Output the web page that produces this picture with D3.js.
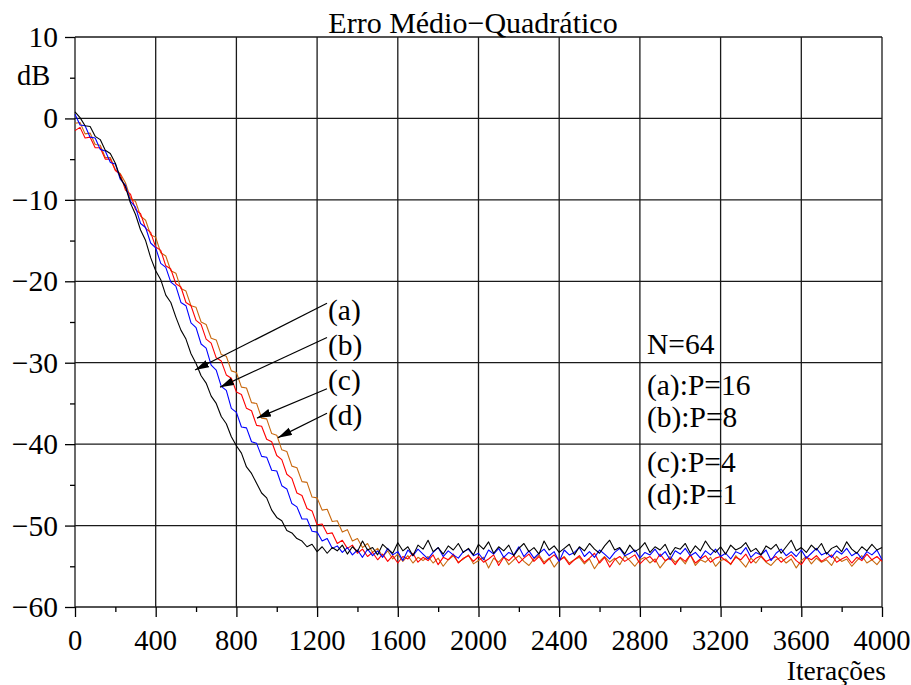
<!DOCTYPE html>
<html>
<head>
<meta charset="utf-8">
<script src="https://cdn.jsdelivr.net/npm/d3@7/dist/d3.min.js"></script>
<style>
  body { margin: 0; background: #fff; }
</style>
</head>
<body>
<div id="chart"></div>
<script>
// iteration step between stored samples
var step = 25;

// (a) P=16 - black
var seriesA = [
  0.8, 0.1, -0.9, -1.0, -2.2, -2.6, -3.9, -4.3, -5.5, -7.3,
  -8.4, -10.4, -11.8, -13.7, -15.0, -17.1, -18.7, -19.8, -21.7, -22.6,
  -24.4, -26.0, -27.1, -28.9, -30.1, -31.6, -32.5, -34.1, -35.0, -36.6,
  -37.5, -39.1, -40.2, -41.1, -42.8, -43.6, -44.8, -46.0, -46.6, -48.1,
  -49.0, -49.4, -50.6, -50.9, -51.6, -51.9, -52.6, -52.3, -53.2, -52.6,
  -53.4, -52.7, -53.1, -52.4, -53.5, -52.6, -53.2, -51.9, -53.0, -52.7,
  -53.6, -52.3, -52.9, -53.4, -52.1, -53.1, -52.6, -53.7, -52.4, -52.9,
  -51.8, -53.2, -52.7, -53.5, -52.5, -53.0, -52.2, -53.3, -52.8, -53.6,
  -52.3, -52.9, -52.0, -53.4, -52.6, -53.1, -52.4, -53.7, -52.8, -52.2,
  -53.2, -52.7, -53.5, -51.9, -53.0, -52.5, -53.3, -52.8, -52.3, -53.6,
  -52.6, -53.1, -52.2, -52.9, -53.4, -52.5, -51.8, -53.0, -52.7, -53.5,
  -52.4, -53.2, -52.8, -52.1, -53.3, -52.6, -53.0, -52.3, -53.6, -52.7,
  -52.9, -52.2, -53.4, -52.5, -53.1, -51.9, -52.8, -53.3, -52.6, -53.5,
  -52.4, -53.0, -52.7, -52.1, -53.2, -52.8, -53.6, -52.5, -52.9, -52.3,
  -53.4, -52.6, -51.8, -53.1, -52.7, -53.3, -52.4, -53.0, -52.2, -53.5,
  -52.8, -52.5, -53.2, -52.0, -52.9, -53.4, -52.6, -53.1, -52.3, -53.0,
  -52.7
];

// (b) P=8 - blue
var seriesB = [
  0.5, -0.8, -0.9, -2.3, -2.4, -3.8, -4.0, -5.4, -5.6, -7.5,
  -8.2, -10.2, -10.9, -12.9, -13.4, -15.3, -15.9, -17.8, -18.3, -20.1,
  -20.6, -22.6, -23.0, -25.1, -25.7, -27.7, -28.2, -30.3, -30.9, -32.9,
  -33.4, -35.6, -36.1, -37.9, -38.0, -39.7, -39.9, -41.5, -41.6, -43.2,
  -43.3, -45.1, -45.5, -47.3, -47.7, -49.2, -49.2, -50.7, -50.8, -51.9,
  -51.6, -52.8, -52.5, -53.3, -52.7, -53.6, -53.0, -53.9, -52.9, -53.7,
  -53.1, -53.9, -52.8, -53.6, -53.2, -54.3, -53.0, -53.7, -52.9, -53.5,
  -54.1, -53.3, -52.7, -53.8, -53.1, -53.6, -54.0, -53.2, -52.9, -53.7,
  -53.4, -54.2, -53.0, -53.5, -52.8, -53.9, -53.3, -53.6, -52.6, -53.8,
  -53.1, -54.0, -53.4, -52.9, -53.7, -53.2, -54.4, -53.0, -53.6, -53.3,
  -52.7, -53.8, -53.2, -53.9, -53.0, -53.5, -54.1, -53.3, -52.8, -53.7,
  -53.4, -53.0, -54.0, -53.3, -53.6, -52.9, -53.8, -53.2, -54.2, -53.1,
  -53.5, -52.8, -53.7, -53.3, -54.0, -53.1, -53.6, -52.9, -53.8, -53.4,
  -54.1, -53.2, -53.5, -52.7, -53.9, -53.3, -53.6, -53.0, -54.3, -53.4,
  -52.9, -53.7, -53.2, -53.8, -53.0, -54.0, -53.4, -52.8, -53.6, -53.3,
  -53.9, -53.1, -53.5, -52.8, -53.7, -53.3, -54.1, -53.2, -53.6, -53.0,
  -54.2
];

// (c) P=4 - red
var seriesC = [
  -1.5, -1.1, -2.4, -2.3, -3.6, -3.6, -5.0, -5.0, -6.4, -6.9,
  -8.8, -9.3, -11.2, -11.7, -13.5, -14.0, -15.8, -16.2, -18.1, -18.5,
  -20.3, -20.7, -22.6, -23.0, -24.8, -25.3, -27.1, -27.6, -29.4, -29.8,
  -31.5, -31.9, -33.6, -33.9, -35.6, -35.9, -37.7, -37.8, -39.4, -39.7,
  -41.4, -41.9, -43.7, -44.2, -46.0, -46.3, -47.9, -48.2, -49.9, -49.8,
  -51.0, -50.9, -52.2, -51.8, -52.8, -52.4, -53.4, -52.9, -53.8, -53.3,
  -54.2, -53.5, -54.4, -53.7, -54.6, -53.8, -54.1, -53.4, -54.5, -53.9,
  -54.3, -53.6, -54.8, -53.9, -54.2, -53.5, -54.6, -54.0, -53.7, -54.4,
  -53.8, -54.5, -54.1, -53.6, -54.9, -53.9, -54.3, -53.7, -54.6, -54.0,
  -53.5, -54.4, -53.8, -54.7, -54.1, -53.6, -54.3, -53.9, -54.8, -54.2,
  -53.7, -54.5, -54.0, -53.4, -54.6, -53.9, -55.1, -54.2, -53.8, -54.4,
  -54.0, -53.6, -54.7, -54.1, -53.8, -54.5, -53.5, -54.3, -54.0, -54.8,
  -53.9, -54.4, -53.6, -54.6, -54.1, -53.7, -54.5, -54.0, -53.8, -54.3,
  -54.7, -53.9, -54.2, -53.5, -54.6, -54.0, -53.7, -54.4, -54.1, -53.8,
  -54.5, -54.0, -53.6, -54.3, -54.8, -53.9, -54.2, -53.7, -54.4, -54.0,
  -53.6, -54.5, -54.1, -53.8, -54.6, -53.9, -54.3, -53.5, -54.2, -53.8,
  -54.4
];

// (d) P=1 - orange
var seriesD = [
  -0.6, -0.5, -1.9, -1.8, -3.2, -3.3, -4.8, -4.8, -6.3, -6.8,
  -7.9, -9.8, -10.2, -12.0, -12.5, -14.3, -14.6, -16.5, -16.9, -18.7,
  -19.0, -20.9, -21.2, -23.0, -23.2, -25.0, -25.3, -27.0, -27.2, -29.0,
  -29.2, -31.0, -31.2, -33.0, -33.1, -34.9, -35.0, -36.8, -36.9, -38.7,
  -38.9, -40.7, -40.9, -42.7, -42.9, -44.6, -44.7, -46.5, -46.6, -48.1,
  -48.0, -49.5, -49.4, -50.8, -50.5, -51.9, -51.6, -52.7, -52.2, -53.3,
  -52.8, -53.8, -53.1, -54.1, -53.5, -54.4, -53.7, -54.6, -53.9, -54.3,
  -53.8, -54.6, -54.0, -55.0, -54.2, -53.7, -54.5, -54.1, -53.6, -54.7,
  -54.3, -53.9, -55.2, -54.0, -54.5, -53.8, -54.8, -54.2, -53.7, -54.4,
  -54.9, -54.1, -53.6, -54.5, -54.0, -55.1, -54.3, -53.8, -54.6, -54.2,
  -53.9, -54.7, -54.1, -55.3, -54.4, -53.8, -54.5, -54.0, -54.8, -53.7,
  -54.3, -55.0, -54.2, -53.9, -54.6, -54.1, -55.2, -54.4, -53.8, -54.5,
  -54.0, -54.7, -53.6, -54.9, -54.2, -54.5, -53.9, -55.0, -54.3, -54.1,
  -54.8, -53.7, -54.4, -55.1, -54.0, -54.6, -53.8, -54.5, -54.9, -54.2,
  -53.9, -54.6, -54.1, -55.2, -54.3, -53.8, -54.7, -54.0, -54.5, -54.2,
  -54.9, -53.8, -54.4, -54.1, -55.0, -54.3, -53.7, -54.6, -54.2, -54.8,
  -54.0
];

var xTicks = [0, 400, 800, 1200, 1600, 2000, 2400, 2800, 3200, 3600, 4000];
var xMinor = [200, 600, 1000, 1400, 1800, 2200, 2600, 3000, 3400, 3800];
var yTicks = [10, 0, -10, -20, -30, -40, -50, -60];
var yMinor = [5, -5, -15, -25, -35, -45, -55];

var legendLines = ["N=64", "(a):P=16", "(b):P=8", "(c):P=4", "(d):P=1"];
var legendDb = [-28.9, -34.0, -37.9, -43.4, -47.3];
var legendIter = 2835;

var annoLabels = ["(a)", "(b)", "(c)", "(d)"];
var annoTipIter = [595, 719, 902, 1006];
var annoTipDb = [-30.9, -33.0, -36.8, -39.2];
var annoStartDb = [-22.7, -26.9, -33.2, -36.2];
var annoTextDb = [-24.8, -29.0, -33.4, -37.6];
var annoIter = 1249;

var serif = '"Liberation Serif", monospace';

var configuration = {
    width: 911,
    height: 685,
    left: 75,
    right: 882,
    top: 37,
    bottom: 607
};

var x = d3.scaleLinear().domain([0, 4000]).range([configuration.left, configuration.right]);
var y = d3.scaleLinear().domain([-60, 10]).range([configuration.bottom, configuration.top]);
var fmt = d3.format("d");

var svg = d3.select("#chart").append("svg")
    .attr("width", configuration.width)
    .attr("height", configuration.height);

svg.append("rect")
    .attr("width", configuration.width)
    .attr("height", configuration.height)
    .attr("fill", "#fff");

var defs = svg.append("defs");
defs.append("marker")
    .attr("id", "arrow")
    .attr("markerUnits", "userSpaceOnUse")
    .attr("markerWidth", 16)
    .attr("markerHeight", 10)
    .attr("refX", 14)
    .attr("refY", 4)
    .attr("orient", "auto")
    .append("path")
    .attr("d", "M0,0 L14,4 L0,8 Z")
    .attr("fill", "#000");

// grid
var grid = svg.append("g").attr("stroke", "#1a1a1a").attr("stroke-width", 1.3);
grid.selectAll(".vgrid").data(xTicks).enter().append("line")
    .attr("x1", function (d) { return x(d); })
    .attr("x2", function (d) { return x(d); })
    .attr("y1", y(10))
    .attr("y2", y(-60));
grid.selectAll(".hgrid").data(yTicks).enter().append("line")
    .attr("x1", x(0))
    .attr("x2", x(4000))
    .attr("y1", function (d) { return y(d); })
    .attr("y2", function (d) { return y(d); });

// axis tick marks (labels drawn below as plain text)
function ticksOnly(axis, transform) {
    var g = svg.append("g").attr("transform", transform).call(axis);
    g.select(".domain").remove();
    g.selectAll("text").remove();
    g.selectAll(".tick line").attr("stroke", "#000").attr("stroke-width", 1.3);
}
ticksOnly(d3.axisBottom(x).tickValues(xTicks).tickSize(10), "translate(0," + y(-60) + ")");
ticksOnly(d3.axisBottom(x).tickValues(xMinor).tickSize(5), "translate(0," + y(-60) + ")");
ticksOnly(d3.axisLeft(y).tickValues(yTicks).tickSize(10), "translate(" + x(0) + ",0)");
ticksOnly(d3.axisLeft(y).tickValues(yMinor).tickSize(5), "translate(" + x(0) + ",0)");

// curves
var line = d3.line()
    .x(function (d, i) { return x(i * step); })
    .y(function (d) { return y(d); });

var curves = [
    { values: seriesD, color: "#c8680e" },
    { values: seriesC, color: "#ff0000" },
    { values: seriesB, color: "#0000ff" },
    { values: seriesA, color: "#000000" }
];
svg.append("g").selectAll("path").data(curves).enter().append("path")
    .attr("d", function (d) { return line(d.values); })
    .attr("fill", "none")
    .attr("stroke", function (d) { return d.color; })
    .attr("stroke-width", 1.1)
    .attr("stroke-linejoin", "round");

// annotation arrows
var anno = svg.append("g");
annoLabels.forEach(function (label, i) {
    anno.append("line")
        .attr("x1", x(annoIter))
        .attr("y1", y(annoStartDb[i]))
        .attr("x2", x(annoTipIter[i]))
        .attr("y2", y(annoTipDb[i]))
        .attr("stroke", "#000")
        .attr("stroke-width", 1.2)
        .attr("marker-end", "url(#arrow)");
});

// all texts
var labels = svg.append("g");
function addText(tx, ty, str, size, anchor) {
    labels.append("text")
        .attr("x", tx)
        .attr("y", ty)
        .attr("font-family", serif)
        .attr("font-size", size)
        .attr("text-anchor", anchor || "start")
        .attr("fill", "#000")
        .text(str);
}

addText(473, 33, "Erro Médio\u2212Quadrático", 30, "middle");

xTicks.forEach(function (d) {
    addText(x(d), y(-60) + 43, fmt(d), 28.5, "middle");
});
yTicks.forEach(function (d) {
    addText(x(0) - 17, y(d) + 10, fmt(d), 29.5, "end");
});

annoLabels.forEach(function (label, i) {
    addText(x(annoIter) + 1, y(annoTextDb[i]), label, 29.5);
});

legendLines.forEach(function (d, i) {
    addText(x(legendIter), y(legendDb[i]), d, 29.5);
});

addText(17, 85, "dB", 28.5);
addText(886, 680, "Iterações", 27.5, "end");
</script>
</body>
</html>
